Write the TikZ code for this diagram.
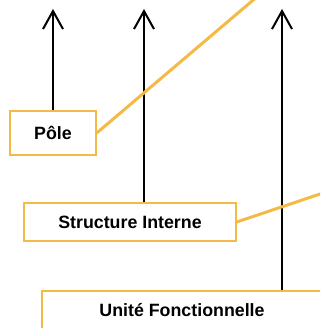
\documentclass[tikz,border=0pt]{standalone}
\usepackage{fontspec}
\setmainfont{Liberation Sans}
\usetikzlibrary{arrows.meta}
\definecolor{jaune}{HTML}{F5BA45}

\begin{document}
\begin{tikzpicture}[x=1pt,y=-1pt,
  cadre/.style={draw=jaune,line width=1.5pt,fill=white,inner sep=0pt,
    font=\fontsize{17.8}{20}\selectfont\bfseries},
  fleche/.style={line width=2pt,-{Straight Barb[length=18pt,width=20pt]}},
  lien/.style={draw=jaune,line width=3pt}]

\useasboundingbox (0,0) rectangle (320,328);
\clip (0,0) rectangle (320,328);

\begin{scope}
\coordinate (h1) at (53,9);
\coordinate (h2) at (144,9);
\coordinate (h3) at (282,9);
\coordinate (l1) at (265,-10);
\coordinate (l2) at (332,190);

\node[cadre,minimum width=86pt,minimum height=44pt] (pole) at (53,133) {Pôle};
\node[cadre,minimum width=212pt,minimum height=38pt] (struct) at (130,222) {Structure Interne};
\node[cadre,minimum width=280pt,minimum height=38pt] (unite) at (182,310) {Unité Fonctionnelle};

\draw[fleche] (pole.north) -- (h1);
\draw[fleche] (struct.north -| h2) -- (h2);
\draw[fleche] (unite.north -| h3) -- (h3);

%liens
\draw[lien] (pole.east) -- (l1);
\draw[lien] (struct.east) -- (l2);
\end{scope}

\end{tikzpicture}
\end{document}
